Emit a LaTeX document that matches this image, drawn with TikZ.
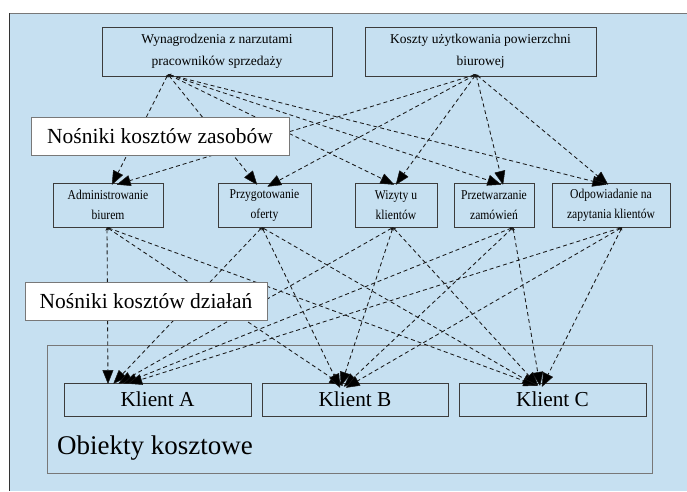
\documentclass[tikz,border=0pt]{standalone}
\usepackage{fontspec}
\setmainfont{Liberation Serif}
\newfontfamily\condfont[FakeStretch=0.86]{Liberation Serif}
\usetikzlibrary{arrows.meta,calc}
\definecolor{bgblue}{RGB}{198,224,241}
\definecolor{edgegray}{RGB}{60,60,60}
\definecolor{lightedge}{RGB}{120,120,120}
\begin{document}
\begin{tikzpicture}[x=1pt,y=-1pt,
  topbox/.style={draw=edgegray,line width=0.9pt,fill=bgblue,inner sep=0pt,align=center,
    font=\fontsize{13.5}{22}\selectfont},
  midbox/.style={draw=edgegray,line width=0.9pt,fill=bgblue,inner sep=0pt,align=center,
    font=\condfont\fontsize{13.5}{20}\selectfont, minimum height=44pt},
  klbox/.style={draw=edgegray,line width=0.8pt,fill=bgblue,inner sep=0pt,minimum height=33pt,
    font=\fontsize{21.3}{24}\selectfont},
  labelbox/.style={draw=lightedge,line width=0.9pt,fill=white,inner sep=0pt,
    font=\fontsize{21.5}{24}\selectfont},
  conn/.style={draw=black!90,line width=0.85pt,dash pattern=on 4pt off 3pt,
    {Stealth[length=3pt,width=3pt]}-{Triangle[length=14pt,width=11pt,fill=black,line width=0.5pt,round]}}
]
\useasboundingbox (0,0) rectangle (687,491);
% background frame
\fill[bgblue] (9,13) rectangle (687,491);
\draw[lightedge,line width=1pt] (9,13) -- (687,13);
\draw[black!80,line width=1pt] (9,13) -- (9,491);

% cost objects frame
\node[draw=lightedge,line width=0.9pt,fill=bgblue,minimum width=605pt,minimum height=128pt,inner sep=0pt] (obj) at (349.5,409) {};
\node[anchor=west,inner sep=0pt,font=\fontsize{27}{30}\selectfont] (objlabel) at (57,448) {Obiekty kosztowe};

% resources
\node[topbox,minimum width=230pt,minimum height=49pt] (wyn) at (217,51.5) {Wynagrodzenia z narzutami\\pracowników sprzedaży};
\node[topbox,minimum width=231pt,minimum height=49pt] (kosz) at (480.5,51.5) {Koszty użytkowania powierzchni\\biurowej};

% activities
\node[midbox,minimum width=110pt] (adm) at (108,205) {Administrowanie\\biurem};
\node[midbox,minimum width=93pt] (prz) at (264.5,205) {Przygotowanie\\oferty};
\node[midbox,minimum width=82pt] (wiz) at (396,205) {Wizyty u\\klientów};
\node[midbox,minimum width=80pt] (ptw) at (494,205) {Przetwarzanie\\zamówień};
\node[midbox,minimum width=118pt] (odp) at (611,205) {Odpowiadanie na\\zapytania klientów};

% clients
\node[klbox,minimum width=187pt] (ka) at (157.5,399.5) {Klient A};
\node[klbox,minimum width=186pt] (kb) at (355,399.5) {Klient B};
\node[klbox,minimum width=187pt] (kc) at (552.5,399.5) {Klient C};

% resource -> activity
\draw[conn] ([xshift=-49pt,yshift=2pt]wyn.south) -- ([xshift=4pt,yshift=-2pt]adm.north);
\draw[conn] ([xshift=-49pt,yshift=2pt]wyn.south) -- ([xshift=-7.5pt,yshift=-2pt]prz.north);
\draw[conn] ([xshift=-49pt,yshift=2pt]wyn.south) -- ([xshift=-2pt,yshift=-2pt]wiz.north);
\draw[conn] ([xshift=-49pt,yshift=2pt]wyn.south) -- ([xshift=7pt,yshift=-2pt]ptw.north);
\draw[conn] ([xshift=-49pt,yshift=2pt]wyn.south) -- ([xshift=-5pt,yshift=-2pt]odp.north);
\draw[conn] ([xshift=-4.5pt,yshift=2pt]kosz.south) -- ([xshift=9pt,yshift=-2pt]adm.north);
\draw[conn] ([xshift=-4.5pt,yshift=2pt]kosz.south) -- ([xshift=3pt,yshift=-4pt]prz.north);
\draw[conn] ([xshift=-4.5pt,yshift=2pt]kosz.south) -- ([xshift=0pt,yshift=-2pt]wiz.north);
\draw[conn] ([xshift=-4.5pt,yshift=2pt]kosz.south) -- ([xshift=9pt,yshift=-2pt]ptw.north);
\draw[conn] ([xshift=-4.5pt,yshift=2pt]kosz.south) -- ([xshift=-3pt,yshift=-2pt]odp.north);

% activity -> client
\draw[conn] ([xshift=-1pt]adm.south) -- ([xshift=-49.5pt,yshift=-1pt]ka.north);
\draw[conn] ([xshift=-1pt]adm.south) -- ([xshift=-12pt,yshift=-3pt]kb.north);
\draw[conn] ([xshift=-1pt]adm.south) -- ([xshift=-15.5pt,yshift=-3pt]kc.north);
\draw[conn] ([xshift=-2.5pt]prz.south) -- ([xshift=-44pt,yshift=-1pt]ka.north);
\draw[conn] ([xshift=-2.5pt]prz.south) -- ([xshift=-15pt,yshift=-5pt]kb.north);
\draw[conn] ([xshift=-2.5pt]prz.south) -- ([xshift=-16.5pt,yshift=-3pt]kc.north);
\draw[conn] ([xshift=-3pt]wiz.south) -- ([xshift=-39pt,yshift=-1pt]ka.north);
\draw[conn] ([xshift=-3pt]wiz.south) -- ([xshift=-14pt,yshift=-3pt]kb.north);
\draw[conn] ([xshift=-3pt]wiz.south) -- ([xshift=-14.5pt,yshift=-3pt]kc.north);
\draw[conn] ([xshift=19pt]ptw.south) -- ([xshift=-34pt,yshift=-1pt]ka.north);
\draw[conn] ([xshift=19pt]ptw.south) -- ([xshift=-11pt,yshift=-4pt]kb.north);
\draw[conn] ([xshift=19pt]ptw.south) -- ([xshift=-12.5pt,yshift=-3pt]kc.north);
\draw[conn] ([xshift=11pt]odp.south) -- ([xshift=-29pt,yshift=-1pt]ka.north);
\draw[conn] ([xshift=11pt]odp.south) -- ([xshift=-9pt,yshift=-5pt]kb.north);
\draw[conn] ([xshift=11pt]odp.south) -- ([xshift=-10.5pt,yshift=-4pt]kc.north);

% labels on top
\node[labelbox,minimum width=258pt,minimum height=38pt] (nres) at (160,136) {Nośniki kosztów zasobów};
\node[labelbox,minimum width=242pt,minimum height=38pt] (nact) at (146,301) {Nośniki kosztów działań};
\end{tikzpicture}
\end{document}
